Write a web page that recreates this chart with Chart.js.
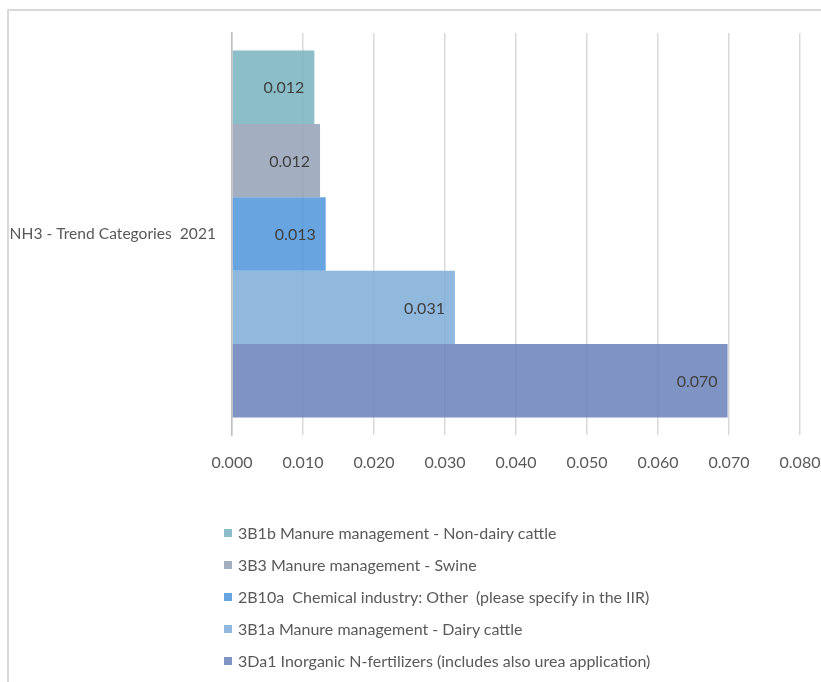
<!DOCTYPE html>
<html>
<head>
<meta charset="utf-8">
<script src="https://cdn.jsdelivr.net/npm/chart.js@4.4.1/dist/chart.umd.min.js"></script>
<style>
  body { margin: 0; background: #fff; font-family: Lato, "Open Sans", sans-serif; }
  #frame { position: absolute; left: 7px; top: 9px; width: 900px; height: 760px;
           border-left: 2px solid #d9d9d9; border-top: 2px solid #d9d9d9; }
  #wrap { position: absolute; left: 0; top: 0; width: 821px; height: 682px; }
  #legend { position: absolute; left: 224px; top: 517px; }
  .item { height: 32px; display: flex; align-items: center; }
  .box { width: 8px; height: 8px; margin-right: 6px; }
  .txt { font-size: 16px; color: #595959; white-space: pre; line-height: 20px; }
</style>
</head>
<body>
<div id="frame"></div>
<div id="wrap"><canvas id="chart" width="821" height="682"></canvas></div>
<div id="legend"></div>
<script>
const categories = ["NH3 - Trend Categories  2021"];
const seriesNames = [
  "3B1b Manure management - Non-dairy cattle",
  "3B3 Manure management - Swine",
  "2B10a  Chemical industry: Other  (please specify in the IIR)",
  "3B1a Manure management - Dairy cattle",
  "3Da1 Inorganic N-fertilizers (includes also urea application)"
];
const seriesValues = [[0.0116], [0.0124], [0.0132], [0.0314], [0.0698]];
const barColors = [
  "rgba(119,179,190,0.85)",
  "rgba(148,160,182,0.85)",
  "rgba(76,148,219,0.85)",
  "rgba(126,173,216,0.85)",
  "rgba(106,129,186,0.85)"
];
const legendColors = ["#8BBEC8", "#A4AEC1", "#67A4E0", "#91B9DE", "#8094C4"];

const FONT = "Lato, 'Open Sans', sans-serif";

// value labels drawn inside the end of each bar
const innerBarText = {
  id: 'innerBarText',
  afterDatasetsDraw(chart) {
    const {ctx} = chart;
    ctx.save();
    ctx.font = '16px ' + FONT;
    ctx.fillStyle = '#404040';
    ctx.textAlign = 'right';
    ctx.textBaseline = 'middle';
    chart.data.datasets.forEach((ds, i) => {
      chart.getDatasetMeta(i).data.forEach((bar, j) => {
        ctx.fillText(ds.data[j].toFixed(3), bar.x - 10, bar.y + 1);
      });
    });
    ctx.restore();
  }
};

const ctx = document.getElementById("chart").getContext("2d");
new Chart(ctx, {
  type: "bar",
  data: {
    labels: categories,
    datasets: seriesNames.map((name, i) => ({
      label: name,
      data: seriesValues[i],
      backgroundColor: barColors[i],
      borderWidth: 0,
      barPercentage: 1,
      categoryPercentage: 0.913
    }))
  },
  options: {
    indexAxis: "y",
    responsive: false,
    animation: false,
    layout: { padding: { left: 0, top: 33, right: 21, bottom: 197 } },
    plugins: { legend: { display: false }, tooltip: { enabled: false } },
    scales: {
      x: {
        min: 0,
        max: 0.08,
        ticks: {
          stepSize: 0.01,
          padding: 18,
          color: "#595959",
          font: { family: FONT, size: 16 },
          callback: (v) => v.toFixed(3)
        },
        grid: { color: "#d9d9d9", lineWidth: 1.5, drawTicks: false },
        border: { display: false },
        afterFit: (scale) => {
          scale.height = 50;
          scale.paddingLeft = 0;
          scale.paddingRight = 0;
        }
      },
      y: {
        ticks: {
          padding: 16,
          color: "#595959",
          font: { family: FONT, size: 15.6 }
        },
        grid: { display: false, drawTicks: false },
        border: { color: "#bfbfbf", width: 1.5 },
        afterFit: (scale) => { scale.width = 232; }
      }
    }
  },
  plugins: [innerBarText]
});

// legend, one item per row
const legend = document.getElementById("legend");
seriesNames.forEach((name, i) => {
  const row = document.createElement("div");
  row.className = "item";
  row.innerHTML = '<span class="box" style="background:' + legendColors[i] + '"></span><span class="txt"></span>';
  row.querySelector(".txt").textContent = name;
  legend.appendChild(row);
});
</script>
</body>
</html>
